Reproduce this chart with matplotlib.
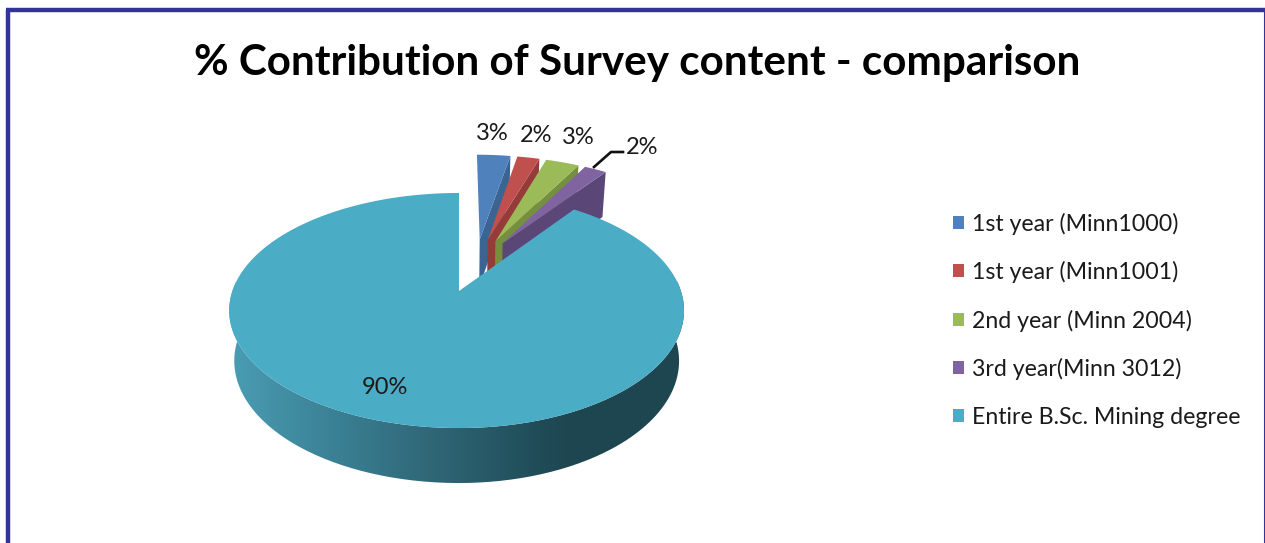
"""Exploded 3D-look pie: % contribution of survey content."""
import matplotlib

matplotlib.use("Agg")
import matplotlib.pyplot as plt
import numpy as np
from matplotlib.colors import LinearSegmentedColormap
from matplotlib.patches import Patch, PathPatch, Polygon
from matplotlib.path import Path

TITLE = "% Contribution of Survey content - comparison"
categories = [
    "1st year (Minn1000)",
    "1st year (Minn1001)",
    "2nd year (Minn 2004)",
    "3rd year(Minn 3012)",
    "Entire B.Sc. Mining degree",
]
values = [3, 2, 3, 2, 90]
value_labels = ["3%", "2%", "3%", "2%", "90%"]
top_colors = ["#4F81BD", "#C0504D", "#9BBB59", "#8064A2", "#4BACC6"]
wall_colors = ["#3A6492", "#953B39", "#74903F", "#5B4678", "#1E4650"]
label_xy = [(492, 134), (536, 135), (578, 137), (642, 148), (385, 387)]

# projection of the tilted disc, in pixels
AX, AY = 459, 291
RX_LEFT, RX_RIGHT = 226.6, 221.9
RY = 114.3
PERSP = 0.166
EXPLODE = 0.25

FONT = "Lato"
plt.rcParams["font.family"] = [FONT, "DejaVu Sans"]


def project(u, v):
    w = 1 / (1 + PERSP * v)
    return AX + np.where(u < 0, RX_LEFT, RX_RIGHT) * u * w, AY - RY * v * w


def drop(x, y):
    # same points on the underside of the disc
    return AX + (x - AX) * 0.978, y * 1.0392 + 38.2


def direction(deg):
    t = np.radians(deg)
    return np.sin(t), np.cos(t)


def arc(deg0, deg1, off):
    t = np.radians(np.linspace(deg0, deg1, 240))
    return project(off[0] + np.sin(t), off[1] + np.cos(t))


fig = plt.figure(figsize=(12.65, 5.43), dpi=100)
ax = fig.add_axes([0, 0, 1, 1])

angles = np.cumsum([0] + values) * 360 / sum(values)
main_mid = (angles[4] + angles[5]) / 2
main_dir = direction(main_mid)

# small slices, left to right, then the big one in front of them
for i in range(4):
    a0, a1 = angles[i], angles[i + 1]
    d = direction((a0 + a1) / 2)
    off = (EXPLODE * (d[0] - main_dir[0]), EXPLODE * (d[1] - main_dir[1]))
    apex = project(*off)
    xs, ys = arc(a0, a1, off)
    tip = (xs[-1], ys[-1])
    wall = [apex, tip, drop(*tip), drop(*apex)]
    ax.add_patch(Polygon(wall, fc=wall_colors[i], ec="none", zorder=2 + i))
    face = np.column_stack([np.r_[apex[0], xs], np.r_[apex[1], ys]])
    ax.add_patch(Polygon(face, fc=top_colors[i], ec="none", zorder=2 + i))

# outer wall of the big slice with its left-to-right shading
xt, yt = arc(85, 275, (0, 0))
xb, yb = drop(xt, yt)
wall_path = Path(np.column_stack([np.r_[xt, xb[::-1]], np.r_[yt, yb[::-1]]]))
wall_patch = PathPatch(wall_path, fc="none", ec="none", zorder=10)
ax.add_patch(wall_patch)
shade = LinearSegmentedColormap.from_list(
    "wall",
    [(0, "#4A9DB4"), (0.22, "#3B8296"), (0.45, "#2F6676"), (0.68, "#204C58"), (0.75, "#1E4650"), (1, "#1E4650")],
)
grad = ax.imshow(
    np.linspace(0, 1, 256)[None, :], cmap=shade, extent=(229, 686, 500, 280),
    aspect="auto", zorder=10,
)
grad.set_clip_path(wall_patch)

xs, ys = arc(angles[4], angles[5], (0, 0))
main_face = np.column_stack([np.r_[AX, xs], np.r_[AY, ys]])
ax.add_patch(Polygon(main_face, fc=top_colors[4], ec="none", zorder=11))

# value labels and the leader of the last small slice
for text, (x, y) in zip(value_labels, label_xy):
    ax.text(x, y, text, ha="center", va="center", fontsize=17, color="#1a1a1a", zorder=12)
ax.plot([594, 611, 623], [167, 152, 152], color="#111111", lw=1.9, zorder=12)

ax.text(637.5, 63, TITLE, ha="center", va="center", fontsize=30.4, fontweight="bold", color="black")

handles = [Patch(fc=c, ec="none") for c in top_colors]
ax.legend(
    handles, categories, loc="center left", bbox_to_anchor=(953 / 1265, 1 - 320 / 543),
    frameon=False, fontsize=16.7, handlelength=0.48, handleheight=0.48, handletextpad=0.35,
    labelspacing=1.14, labelcolor="#1a1a1a", borderpad=0, borderaxespad=0,
)

# slide border
border = "#333399"
ax.plot([8, 8], [543, 10], color=border, lw=3.2, solid_capstyle="butt", zorder=20)
ax.plot([6, 1265], [10, 10], color=border, lw=3.2, solid_capstyle="butt", zorder=20)
ax.plot([1264.5, 1264.5], [10, 543], color=border, lw=1.5, solid_capstyle="butt", zorder=20)

ax.set_xlim(0, 1265)
ax.set_ylim(543, 0)
ax.axis("off")
fig.savefig("out.png", dpi=100)
